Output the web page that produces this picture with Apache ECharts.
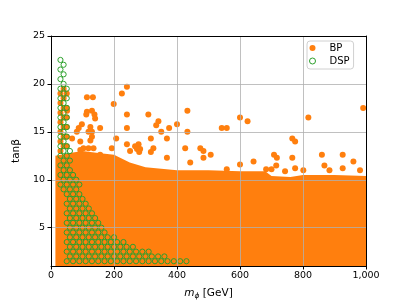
<!DOCTYPE html>
<html><head><meta charset="utf-8">
<script src="https://cdn.jsdelivr.net/npm/echarts@6/dist/echarts.min.js"></script>
<style>html,body{margin:0;padding:0;background:#fff}#c{width:407px;height:305px}</style>
</head><body><div id="c"></div>
<script>
const xTicks = [0, 200, 400, 600, 800, 1000];
const yTicks = [5, 10, 15, 20, 25];

// dense BP region: upper edge of the filled band (m_phi, tan beta)
const bpBulkX   = [14, 60, 100, 150, 200, 250, 300, 400, 500, 600, 680, 700, 760, 800, 900, 1000];
const bpBulkTop = [12.5, 12.8, 13.0, 12.8, 12.6, 11.8, 11.3, 11.0, 11.0, 10.9, 10.9, 10.4, 10.3, 10.5, 10.5, 10.4];

// isolated BP points above the band
const bpScatterX = [241,225,114,133,199,433,114,130,51,112,138,140,241,309,600,817,991,341,334,624,
  98,88,125,130,119,156,241,82,350,375,400,433,542,558,67,130,125,207,93,317,368,766,775,
  278,267,283,273,280,241,193,251,135,119,103,93,325,317,426,474,484,507,484,156,368,442,
  558,600,643,708,717,766,860,926,715,775,868,960,926,743,801,884,683,700,981,
  40,30,50,40,30,40,50,30,40,50,30,40,50,30,40,50,30,40,50,30];
const bpScatterY = [19.7,19.0,18.6,18.6,17.9,17.2,17.1,17.2,17.2,16.8,16.8,16.4,16.8,16.8,16.5,16.5,17.5,16.1,15.7,16.1,
  15.8,15.4,15.5,15.0,15.0,15.4,15.4,15.0,15.0,15.4,15.8,15.0,15.4,15.4,14.3,14.5,14.1,14.3,14.0,14.3,14.3,14.3,14.0,
  13.7,13.5,13.2,13.2,12.9,13.7,13.3,13.0,13.3,13.3,13.3,13.1,13.3,12.9,13.3,13.3,13.0,12.6,12.3,12.6,12.3,11.8,
  11.1,11.6,11.9,12.6,12.3,12.3,12.6,12.6,11.5,11.2,11.5,11.9,11.2,10.9,11.0,11.0,11.1,11.1,11.0,
  19.5,19.0,19.0,18.5,18.0,17.5,17.5,17.0,16.5,16.5,16.0,15.5,15.5,15.0,14.5,14.5,14.0,13.5,13.5,13.0];

// DSP points: rows of the scan grid (tan beta) with first/last m_phi of each row
const dspRowY    = [1.5,2.0,2.5,3.0,3.5,4.0,4.5,5.0,5.5,6.0,6.5,7.0,7.5,8.0,8.5,9.0,9.5,10.0,10.5,11.0,11.5,12.0,
  12.5,13.0,13.5,14.0,14.5,15.0,15.5,16.0,16.5,17.0,17.5,18.0,18.5,19.0,19.5,20.0,20.5,21.0,21.5,22.0,22.5];
const dspRowXmin = [50,60,50,60,50,60,50,60,50,60,50,60,50,60,50,40,30,40,30,40,30,40,
  30,40,30,40,30,40,30,40,30,40,30,40,30,40,30,40,30,40,30,40,30];
const dspRowXmax = [430,360,310,260,230,200,170,160,150,140,130,120,110,100,90,80,90,80,70,60,50,60,
  50,60,50,40,50,40,50,40,50,40,50,40,50,40,50,40,30,40,30,40,30];
const dspStep = 20;

const dspData = [];
dspRowY.forEach((y, i) => {
  for (let x = dspRowXmin[i]; x <= dspRowXmax[i]; x += dspStep) dspData.push([x, y]);
});
const bpData = bpScatterX.map((x, i) => [x, bpScatterY[i]]);
const bulkData = bpBulkX.map((x, i) => [x, bpBulkTop[i]]);

const ORANGE = '#ff7f0e', GREEN = '#2ca02c';
const FONT = 'DejaVu Sans';
const chart = echarts.init(document.getElementById('c'), null, {renderer: 'canvas'});

const gridLines = [];
xTicks.forEach(v => gridLines.push({xAxis: v}));
yTicks.forEach(v => gridLines.push({yAxis: v}));

chart.setOption({
  animation: false,
  grid: {left: 51, right: 41, top: 36, bottom: 35},
  legend: {
    data: [
      {name: 'BP', icon: 'circle', itemStyle: {color: ORANGE, borderWidth: 0}},
      {name: 'DSP', icon: 'circle', itemStyle: {color: '#fff', borderColor: GREEN, borderWidth: 1}}
    ],
    orient: 'vertical', left: 307, top: 41,
    itemWidth: 24, itemHeight: 6, itemGap: 3,
    padding: [2, 4, 3, 2],
    backgroundColor: '#fff', borderColor: '#d0d0d0', borderWidth: 1, borderRadius: 3,
    textStyle: {fontFamily: FONT, fontSize: 10, color: '#000'},
    z: 20
  },
  xAxis: [{
    type: 'value', min: 0, max: 1000, interval: 200, z: 10,
    axisLine: {show: true, onZero: false, lineStyle: {color: '#000', width: 1}},
    axisTick: {show: true, length: 3.5, lineStyle: {color: '#000'}},
    axisLabel: {color: '#000', fontFamily: FONT, fontSize: 9.5, margin: 5},
    splitLine: {show: false},
    name: '{i|m}{s|ϕ}{n| [GeV]}', nameLocation: 'middle', nameGap: 20,
    nameTextStyle: {fontFamily: FONT, fontSize: 10.5, color: '#000',
      rich: {i: {fontStyle: 'italic', fontSize: 10.5, fontFamily: FONT},
             s: {fontStyle: 'italic', fontSize: 7.5, fontFamily: FONT, padding: [6, 0, 0, 0]},
             n: {fontSize: 10.5, fontFamily: FONT}}}
  }, {
    type: 'value', min: 0, max: 1000, position: 'top', z: 10,
    axisLine: {show: true, onZero: false, lineStyle: {color: '#000', width: 1}},
    axisTick: {show: false}, axisLabel: {show: false}, splitLine: {show: false}
  }],
  yAxis: [{
    type: 'value', min: 1, max: 25, z: 10,
    axisLine: {show: true, onZero: false, lineStyle: {color: '#000', width: 1}},
    axisTick: {show: true, length: 3.5, lineStyle: {color: '#000'}, customValues: yTicks},
    axisLabel: {color: '#000', fontFamily: FONT, fontSize: 9.5, margin: 6, customValues: yTicks},
    splitLine: {show: false},
    name: 'tanβ', nameLocation: 'middle', nameGap: 19, nameRotate: 90,
    nameTextStyle: {fontFamily: FONT, fontSize: 10.5, color: '#000'}
  }, {
    type: 'value', min: 1, max: 25, position: 'right', z: 10,
    axisLine: {show: true, onZero: false, lineStyle: {color: '#000', width: 1}},
    axisTick: {show: false}, axisLabel: {show: false}, splitLine: {show: false}
  }],
  series: [
    {
      type: 'scatter', name: 'grid', data: [], z: 0, silent: true,
      markLine: {silent: true, symbol: 'none', label: {show: false},
        lineStyle: {color: '#b0b0b0', width: 0.8, type: 'solid'}, data: gridLines}
    },
    {
      type: 'line', name: 'BP band', data: bulkData, z: 2, silent: true,
      showSymbol: false, symbol: 'none', lineStyle: {width: 0},
      areaStyle: {color: ORANGE, opacity: 1, origin: 'start'}
    },
    {
      type: 'scatter', name: 'BP', data: bpData, z: 3, symbol: 'circle', symbolSize: 6,
      itemStyle: {color: ORANGE, opacity: 1}
    },
    {
      type: 'scatter', name: 'DSP', data: dspData, z: 4, symbol: 'circle', symbolSize: 5.2,
      itemStyle: {color: 'rgba(0,0,0,0)', borderColor: GREEN, borderWidth: 1, opacity: 1}
    }
  ]
});
</script></body></html>
